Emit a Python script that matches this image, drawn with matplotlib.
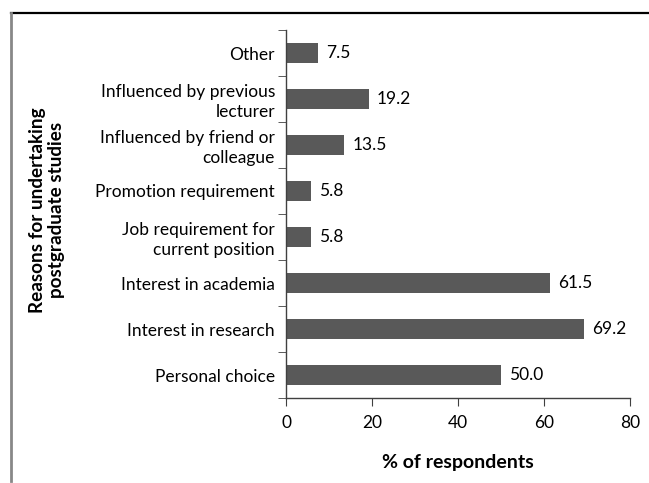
import matplotlib
matplotlib.use("Agg")
import matplotlib.pyplot as plt
from matplotlib.lines import Line2D

categories = ["Personal choice", "Interest in research", "Interest in academia",
              "Job requirement for\ncurrent position", "Promotion requirement",
              "Influenced by friend or\ncolleague", "Influenced by previous\nlecturer", "Other"]
values = [50.0, 69.2, 61.5, 5.8, 5.8, 13.5, 19.2, 7.5]
xticks = [0, 20, 40, 60, 80]

plt.rcParams['font.family'] = ['Lato', 'DejaVu Sans']
FS = 12.5

fig = plt.figure(figsize=(6.49, 4.83), dpi=100)
ax = fig.add_axes([286/649, 1-398/483, (630-286)/649, (398-30)/483])

y = list(range(len(categories)))
ax.barh(y, values, height=0.42, color='#595959')
for yi, v in zip(y, values):
    ax.text(v + 1.9, yi, f"{v:.1f}", va='center', ha='left', fontsize=FS)

ax.set_xlim(0, 80)
ax.set_ylim(-0.5, len(categories) - 0.5)
ax.set_xticks(xticks)
ax.set_xticklabels([str(t) for t in xticks], fontsize=FS)
ax.set_yticks(y)
ax.set_yticklabels(categories, fontsize=FS, linespacing=1.3)
ax.set_yticks([i - 0.5 for i in range(len(categories) + 1)], minor=True)
ax.tick_params(axis='y', which='major', length=0, pad=8)
ax.tick_params(axis='y', which='minor', length=6, direction='out', color='#404040')
ax.tick_params(axis='x', length=6, direction='out', color='#404040', pad=6)

for s in ['top', 'right']:
    ax.spines[s].set_visible(False)
for s in ['left', 'bottom']:
    ax.spines[s].set_color('#404040')
    ax.spines[s].set_linewidth(1.0)

ax.set_xlabel("% of respondents", fontsize=14, fontweight='bold', labelpad=17)
fig.text(47/649, 1-210/483, "Reasons for undertaking\npostgraduate studies", rotation=90,
         ha='center', va='center', fontsize=13.6, fontweight='bold', linespacing=1.15)

# outer frame
fig.add_artist(Line2D([10.5/649, 1.0], [1-12.5/483, 1-12.5/483], color='black', lw=1.6,
                      transform=fig.transFigure))
fig.add_artist(Line2D([11/649, 11/649], [1-12.5/483, 1-481/483], color='#888888', lw=2.0,
                      transform=fig.transFigure))

fig.savefig("out.png", dpi=100)
